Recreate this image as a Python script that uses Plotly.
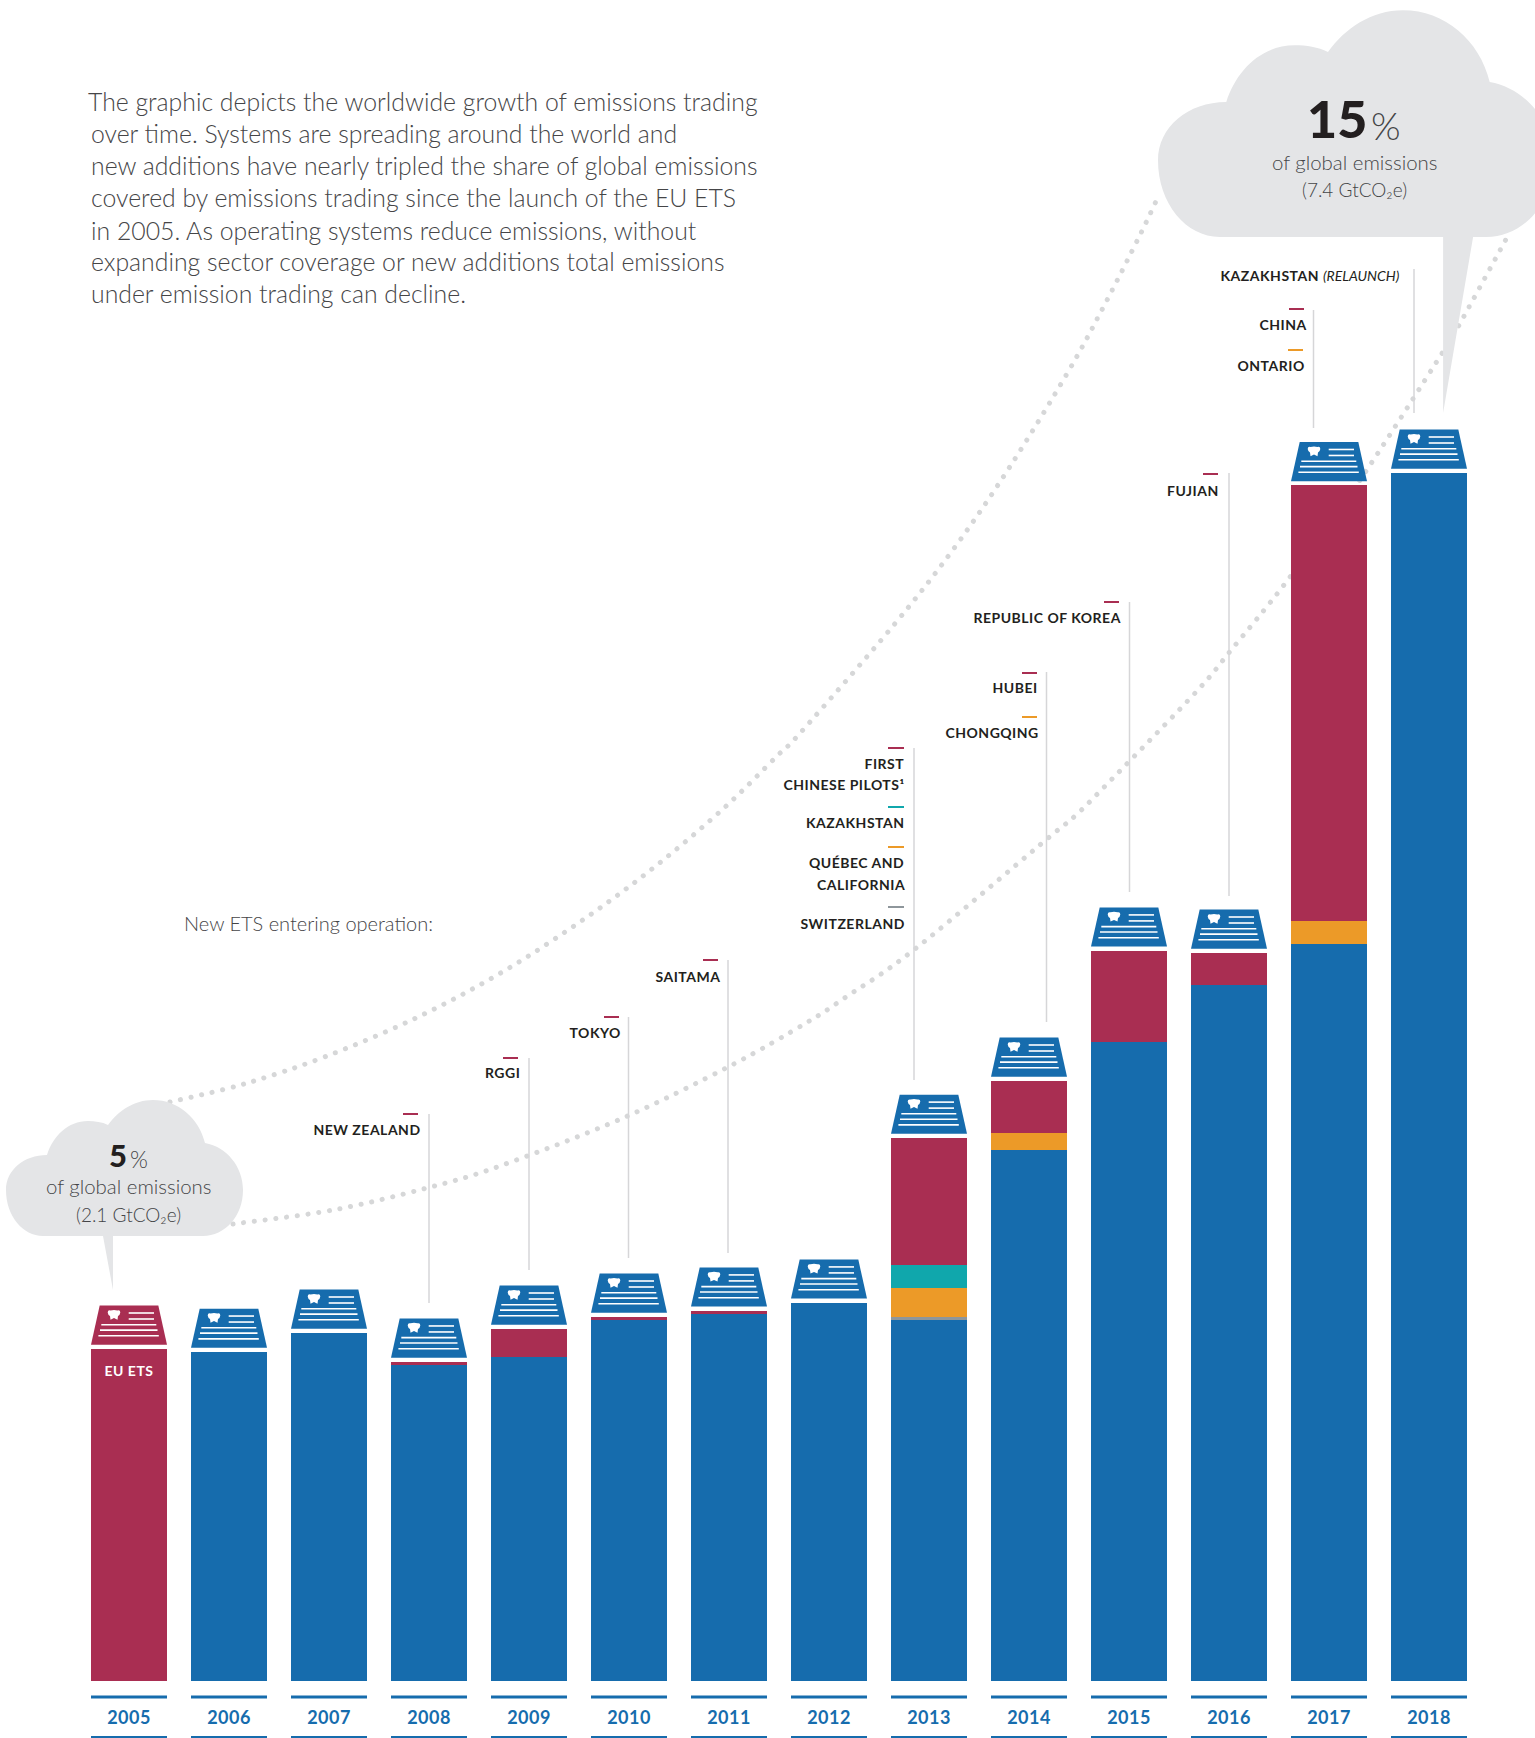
import plotly.graph_objects as go

# ---------- data (MtCO2e-equivalent bar heights) ----------
years = [2005, 2006, 2007, 2008, 2009, 2010, 2011, 2012, 2013, 2014, 2015, 2016, 2017, 2018]
existing = [0, 2056, 2175, 1975, 2025, 2256, 2294, 2363, 2256, 3319, 3994, 4350, 4606, 7550]
new_gray = [0, 0, 0, 0, 0, 0, 0, 0, 19, 0, 0, 0, 0, 0]
new_orange = [0, 0, 0, 0, 0, 0, 0, 0, 181, 106, 0, 0, 144, 0]
new_teal = [0, 0, 0, 0, 0, 0, 0, 0, 146, 0, 0, 0, 0, 0]
new_red = [2075, 0, 0, 19, 175, 19, 19, 0, 791, 325, 569, 200, 2722, 0]

intro_lines = [
    "The graphic depicts the worldwide growth of emissions trading",
    "over time. Systems are spreading around the world and",
    "new additions have nearly tripled the share of global emissions",
    "covered by emissions trading since the launch of the EU ETS",
    "in 2005. As operating systems reduce emissions, without",
    "expanding sector coverage or new additions total emissions",
    "under emission trading can decline.",
]
entry_labels = ["NEW ZEALAND", "RGGI", "TOKYO", "SAITAMA", "FIRST", "CHINESE PILOTS¹", "KAZAKHSTAN",
                "QUÉBEC AND", "CALIFORNIA", "SWITZERLAND", "HUBEI", "CHONGQING", "REPUBLIC OF KOREA",
                "FUJIAN", "CHINA", "ONTARIO",
                "<b>KAZAKHSTAN</b> <i style='font-weight:400'>(RELAUNCH)</i>"]

# ---------- layout geometry (page pixels) ----------
W, H, BASE = 1535, 1738, 1681
PX_PER_UNIT = 0.16
BAR_W = 0.76
BLUE, RED, ORANGE, TEAL, GRAY = "#166CAD", "#A92E52", "#EC9A28", "#10A7AC", "#8E969B"
CLOUD, LEADER, DOT, INK, SOFT = "#E4E5E7", "#D6D6D8", "#D6D7D8", "#231F20", "#454547"
SANS = "Lato"

label_xy = [(421, 1129), (520, 1072), (621, 1032), (721, 976), (905, 763), (905, 784), (905, 822),
            (905, 862), (905, 884), (905, 923), (1038, 687), (1039, 732), (1121, 617),
            (1219, 490), (1307, 324), (1305, 365), (1400, 276)]
dashes = [(403, 418, 1114, RED), (503, 518, 1058, RED), (604, 619, 1017, RED), (703, 718, 960, RED),
          (888, 904, 748, RED), (888, 904, 807, TEAL), (888, 904, 847, ORANGE), (888, 904, 907, GRAY),
          (1022, 1037, 673, RED), (1022, 1037, 717, ORANGE), (1104, 1119, 602, RED),
          (1203, 1218, 474, RED), (1289, 1304, 309, RED), (1288, 1303, 350, ORANGE)]
leaders = [(429, 1114, 1303), (529, 1058, 1270), (628.5, 1017, 1258), (728, 960, 1253), (914, 748, 1080),
           (1046.5, 672, 1022), (1129.5, 602, 892), (1229, 473, 896), (1313.5, 310, 428), (1414, 269, 413)]
curve_up = [(170, 1102), (244, 1084), (327, 1056), (418, 1017), (504, 971), (587, 917), (657, 865), (724, 808),
            (778, 755), (802, 731), (893, 626), (955, 547), (1011, 465), (1068, 372), (1105, 304), (1139, 237), (1158, 197)]
curve_low = [(233, 1224), (333, 1210), (427, 1188), (500, 1166), (623, 1118), (730, 1066), (806, 1023), (846, 997),
             (915, 949), (1047, 839), (1075, 816), (1113, 778), (1197, 691), (1232, 649), (1287, 581), (1358, 483),
             (1441, 355), (1458, 327), (1510, 232)]


def fx(px):
    return px / W


def fy(py):
    return 1 - py / BASE


def smooth_path(pts):
    """Catmull-Rom through the traced points, as a cubic path in paper coordinates."""
    d = f"M {fx(pts[0][0]):.5f} {fy(pts[0][1]):.5f}"
    for i in range(len(pts) - 1):
        p0, p1, p2, p3 = pts[max(i - 1, 0)], pts[i], pts[i + 1], pts[min(i + 2, len(pts) - 1)]
        c1 = (p1[0] + (p2[0] - p0[0]) / 6, p1[1] + (p2[1] - p0[1]) / 6)
        c2 = (p2[0] - (p3[0] - p1[0]) / 6, p2[1] - (p3[1] - p1[1]) / 6)
        d += f" C {fx(c1[0]):.5f} {fy(c1[1]):.5f} {fx(c2[0]):.5f} {fy(c2[1]):.5f} {fx(p2[0]):.5f} {fy(p2[1]):.5f}"
    return d


def cloud_path(dx, dy, s, tail):
    segs = [
        ((17, 0), (0, 20), (0, 46)), ((0, 66), (18, 81), (41, 81)),
        ((47, 100), (62, 115), (82, 115)), ((89, 115), (96, 114), (102, 111)),
        ((112, 125), (128, 136), (147, 136)), ((172, 136), (193, 118), (199, 93)),
        ((221, 89), (237, 69), (237, 46)), ((237, 20), (219, 0), (197, 0)),
    ]
    P = lambda p: f"{dx + s * p[0]:.1f} {dy + s * p[1]:.1f}"
    d = "M " + P((37, 0))
    for a, b, c in segs:
        d += f" C {P(a)} {P(b)} {P(c)}"
    d += " Z M " + " L ".join(P(p) for p in tail) + " Z"
    return d


totals = [sum(v) for v in zip(existing, new_gray, new_orange, new_teal, new_red)]
shapes, annotations = [], []

# dotted growth curves, behind everything
for pts in (curve_up, curve_low):
    shapes.append(dict(type="path", xref="paper", yref="paper", layer="below", path=smooth_path(pts),
                       line=dict(color=DOT, width=5, dash="0.1px,10.7px")))
# clouds
shapes.append(dict(type="path", layer="below", xref="x", yref="y", xsizemode="pixel", ysizemode="pixel",
                   xanchor=2005, yanchor=totals[0], fillcolor=CLOUD, line=dict(width=0),
                   path=cloud_path(-123, 113, 1.0, [(97, 0), (107, 0), (107, -54)])))
shapes.append(dict(type="path", layer="below", xref="x", yref="y", xsizemode="pixel", ysizemode="pixel",
                   xanchor=2018, yanchor=totals[-1], fillcolor=CLOUD, line=dict(width=0),
                   path=cloud_path(-271, 236, 1.667, [(171, 0), (189, 0), (171, -105.6)])))
# leader lines and colour dashes
for x, y0, y1 in leaders:
    shapes.append(dict(type="line", xref="paper", yref="paper", layer="below", x0=fx(x), x1=fx(x), y0=fy(y0), y1=fy(y1),
                       line=dict(color=LEADER, width=1.5)))
for x0, x1, y, c in dashes:
    shapes.append(dict(type="line", xref="paper", yref="paper", layer="below", x0=fx(x0), x1=fx(x1), y0=fy(y), y1=fy(y),
                       line=dict(color=c, width=2)))

# permit icon on top of each stack, and axis rules
for yr, tot in zip(years, totals):
    col = RED if yr == 2005 else BLUE
    common = dict(xref="x", yref="y", xsizemode="pixel", ysizemode="pixel", xanchor=yr, yanchor=tot, layer="above")
    shapes.append(dict(type="path", path="M -38 4.3 L -29.3 43.4 L 29.3 43.4 L 38 4.3 Z", fillcolor=col, line=dict(width=0), **common))
    shapes.append(dict(type="path", fillcolor="white", line=dict(width=0), **common,
                       path="M -21.3 36.5 Q -21.3 39.2 -18.5 38.6 Q -15 39.6 -11.5 38.6 Q -8.7 39.2 -8.7 36.5 "
                            "Q -9 34 -11 33 L -11.5 29.3 L -15 31 L -18.5 29.3 L -19 33 Q -21 34 -21.3 36.5 Z"))
    for a, b, up in [(-0.3, 25, 36), (-0.3, 25, 30), (-27.7, 27.3, 24.3), (-29, 28.5, 18.9), (-30.6, 29.8, 13.2)]:
        shapes.append(dict(type="path", path=f"M {a} {up} L {b} {up}", line=dict(color="white", width=1.6), **common))
    for py, w in [(1697, 3), (1737, 2)]:
        shapes.append(dict(type="line", xref="x", yref="paper", x0=yr - BAR_W / 2, x1=yr + BAR_W / 2, y0=fy(py), y1=fy(py),
                           line=dict(color=BLUE, width=w)))


def note(text, px, py, size, color=INK, anchor="center", weight=400, font=SANS):
    annotations.append(dict(text=text, x=fx(px), y=fy(py), xref="paper", yref="paper", showarrow=False,
                            xanchor=anchor, yanchor="middle", align=anchor,
                            font=dict(family=font, size=size, color=color, weight=weight),
                            borderpad=0, borderwidth=0))


for line, (px, py) in zip(intro_lines, [(88, 101.5), (91, 133.5), (91, 165.5), (91, 197.5), (91, 230), (91, 261.5), (91, 294)]):
    note(line, px, py, 24.8, SOFT, "left", 300)
note("New ETS entering operation:", 184, 923, 20, SOFT, "left", 300)
for text, (px, py) in zip(entry_labels, label_xy):
    note(text, px, py, 14, INK, "right", 700)
note("EU ETS", 129, 1370, 14, "white", "center", 700)
note("5", 118, 1155, 31, INK, "center", 900)
note("%", 139, 1159, 23, SOFT, "center", 300)
note("of global emissions", 128.7, 1186, 20.4, SOFT, "center", 300)
note("(2.1 GtCO₂e)", 128.7, 1214, 19, SOFT, "center", 300)
note("15", 1337, 118, 52, INK, "center", 900)
note("%", 1386, 125, 38, SOFT, "center", 300)
note("of global emissions", 1354, 162, 20.4, SOFT, "center", 300)
note("(7.4 GtCO₂e)", 1354, 190, 19, SOFT, "center", 300)

fig = go.Figure()
for values, col, name in [(existing, BLUE, "Operating systems"), (new_gray, GRAY, "Switzerland"),
                          (new_orange, ORANGE, "Orange entrants"), (new_teal, TEAL, "Teal entrants"),
                          (new_red, RED, "New entrants")]:
    fig.add_trace(go.Bar(x=years, y=values, name=name, width=BAR_W, marker=dict(color=col, line=dict(width=0))))

fig.update_layout(
    barmode="stack", width=W, height=H, autosize=False, showlegend=False,
    margin=dict(l=0, r=0, t=0, b=H - BASE, pad=0),
    paper_bgcolor="white", plot_bgcolor="white",
    shapes=shapes, annotations=annotations,
    xaxis=dict(range=[2005 - 1.29, 2005 - 1.29 + W / 100], tickvals=years, ticktext=[str(y) for y in years],
               ticks="outside", ticklen=20, tickcolor="rgba(0,0,0,0)", showgrid=False, zeroline=False, showline=False,
               tickfont=dict(family=SANS, size=18, color=BLUE, weight=700), fixedrange=True),
    yaxis=dict(range=[0, BASE / PX_PER_UNIT], visible=False, fixedrange=True),
)

css = ("var s=document.createElement('style');"
       "s.textContent='body{margin:0;overflow:hidden}"
       ".shapelayer path[style*=\"0.1px\"]{stroke-linecap:round !important}"
       ".annotation text[style*=\"font-weight: 700\"],.xtick text{letter-spacing:.5px}"
       ".annotation tspan[style*=\"italic\"]{letter-spacing:0}';"
       "document.head.appendChild(s);")
fig.write_html("out.html", post_script=css, config=dict(displayModeBar=False))
